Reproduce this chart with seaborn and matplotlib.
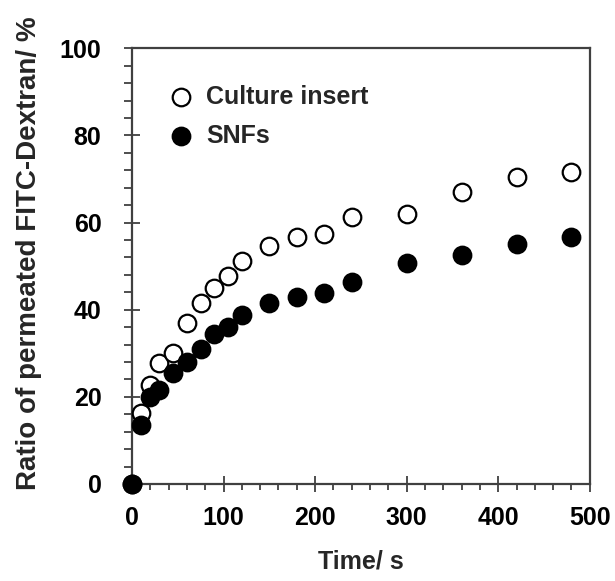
import pandas as pd
import matplotlib.pyplot as plt
import seaborn as sns
from matplotlib.ticker import MultipleLocator

# valores
time_s = [0, 10, 20, 30, 45, 60, 75, 90, 105, 120, 150, 180, 210, 240, 300, 360, 420, 480]
culture_insert = [0, 16.3, 22.7, 27.7, 30.0, 36.9, 41.5, 45.0, 47.7, 51.1, 54.6, 56.7, 57.3, 61.2, 61.9, 67.0, 70.4, 71.6]
snfs = [0, 13.5, 20.0, 21.6, 25.5, 28.0, 31.0, 34.4, 36.0, 38.8, 41.5, 43.0, 43.8, 46.3, 50.7, 52.5, 55.0, 56.7]

df = pd.DataFrame({'Time': time_s, 'Culture insert': culture_insert, 'SNFs': snfs})

sns.set_theme(style="ticks")
plt.rcParams['font.family'] = ['Liberation Sans', 'DejaVu Sans']

fig = plt.figure(figsize=(6.15, 5.81), dpi=100)
ax = fig.add_axes([0.2146, 0.167, 0.7444, 0.750])

sns.scatterplot(data=df, x='Time', y='Culture insert', ax=ax, s=160, marker='o',
                facecolor='white', edgecolor='black', linewidth=1.6,
                label='Culture insert', zorder=3, clip_on=False)
sns.scatterplot(data=df, x='Time', y='SNFs', ax=ax, s=160, marker='o',
                color='black', edgecolor='black', linewidth=1.6,
                label='SNFs', zorder=4, clip_on=False)

ax.set_xlim(0, 500)
ax.set_ylim(0, 100)
ax.xaxis.set_major_locator(MultipleLocator(100))
ax.xaxis.set_minor_locator(MultipleLocator(20))
ax.yaxis.set_major_locator(MultipleLocator(20))
ax.yaxis.set_minor_locator(MultipleLocator(4))
ax.tick_params(which='major', direction='inout', length=12, width=1.3, colors='#404040',
               labelcolor='black', labelsize=18)
ax.tick_params(axis='x', which='major', pad=10)
ax.tick_params(axis='y', which='major', pad=16)
ax.tick_params(axis='y', which='minor', direction='out', length=6, width=1.3, colors='#404040')
ax.tick_params(axis='x', which='minor', direction='out', length=4, width=1.3, colors='#404040')
for lab in ax.get_xticklabels() + ax.get_yticklabels():
    lab.set_fontweight('bold')
for sp in ax.spines.values():
    sp.set_linewidth(1.6)
    sp.set_color('#404040')
    sp.set_visible(True)

ax.set_xlabel('Time/ s', fontsize=18, fontweight='bold', labelpad=14)
ax.set_ylabel('Ratio of permeated FITC-Dextran/ %', fontsize=20, fontweight='bold')
ax.yaxis.set_label_coords(-0.197, 0.53)
ax.grid(False)

leg = ax.legend(loc='upper left', bbox_to_anchor=(0.02, 0.95), frameon=False,
                prop={'weight': 'bold', 'size': 18}, handletextpad=0.0, labelspacing=0.6,
                borderaxespad=0.2)

plt.savefig('out.png', dpi=100)
